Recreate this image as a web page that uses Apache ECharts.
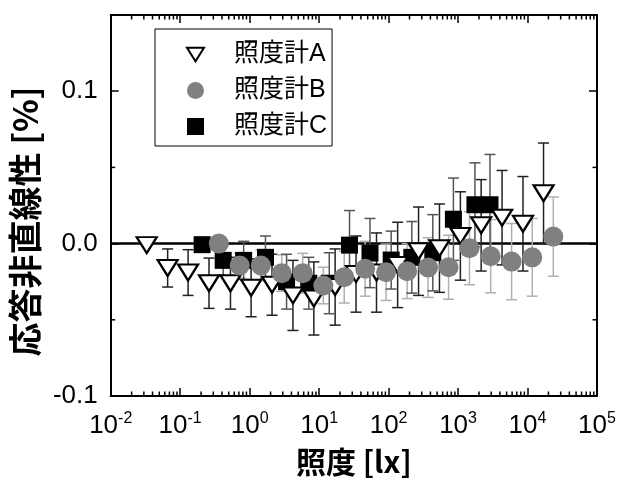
<!DOCTYPE html>
<html>
<head>
<meta charset="utf-8">
<script src="https://cdn.jsdelivr.net/npm/echarts@6/dist/echarts.min.js"></script>
<style>
html, body { margin: 0; background: #fff; }
#chart { width: 621px; height: 492px; }
</style>
</head>
<body>
<div id="chart"></div>
<script>
// 照度 [lx] / 応答非直線性 [%] / 誤差
const luxA = [0.033, 0.066, 0.13, 0.26, 0.53, 1.05, 2.1, 4.2, 8.4, 17, 34, 67, 135, 270, 540, 1080, 2150, 4300, 8600, 17000]
const nonlinA = [-0.001, -0.016, -0.019, -0.026, -0.026, -0.029, -0.027, -0.034, -0.036, -0.0285, -0.020, -0.019, -0.014, -0.005, -0.003, 0.005, 0.012, 0.017, 0.013, 0.033]
const errA = [0, 0.0125, 0.015, 0.0165, 0.017, 0.019, 0.02, 0.023, 0.024, 0.025, 0.025, 0.026, 0.028, 0.029, 0.029, 0.029, 0.030, 0.031, 0.031, 0.033]

const luxB = [0.36, 0.72, 1.45, 2.9, 5.8, 11.5, 23, 46, 92, 185, 370, 730, 1460, 2950, 5900, 11700, 23500]
const nonlinB = [0, -0.0144, -0.0144, -0.0194, -0.0194, -0.0275, -0.022, -0.0165, -0.0188, -0.0181, -0.0157, -0.0155, -0.003, -0.0083, -0.0118, -0.009, 0.0046]
const errB = [0.004, 0.008, 0.01, 0.012, 0.013, 0.012, 0.017, 0.018, 0.0185, 0.018, 0.0196, 0.021, 0.024, 0.024, 0.025, 0.0255, 0.026]

const luxC = [0.207, 0.416, 0.82, 1.69, 3.4, 7.1, 14, 27.4, 54, 109, 216, 433, 857, 1750, 2880]
const nonlinC = [-0.0007, -0.011, -0.011, -0.009, -0.025, -0.026, -0.026, -0.001, -0.0062, -0.0108, -0.009, -0.006, 0.016, 0.0255, 0.0255]
const errC = [0, 0.01, 0.0125, 0.014, 0.018, 0.017, 0.02, 0.0227, 0.0227, 0.019, 0.0235, 0.025, 0.027, 0.0275, 0.033]

const seriesNames = ['照度計A', '照度計B', '照度計C']

// log axis minor ticks (2..9 x 10^k) and y minor ticks
const xMinorTicks = []
for (let k = -2; k < 5; k++) {
    for (let m = 2; m < 10; m++) xMinorTicks.push(m * Math.pow(10, k))
}
const yMinorTicks = [-0.05, 0.05]

const FONT = "'Liberation Sans', Arial, sans-serif"
const CJK = "'Noto Sans CJK JP', sans-serif"
const MIXED = "'Liberation Sans', 'Noto Sans CJK JP', sans-serif"
const DOWN_TRIANGLE = 'path://M0,0 L20,0 L10,16 Z'

function pairs(xs, ys) {
    return xs.map((x, i) => [x, ys[i]])
}

function errorBars(xs, ys, errs, color) {
    return {
        type: 'custom',
        silent: true,
        z: 1,
        data: xs.map((x, i) => [x, ys[i] - errs[i], ys[i] + errs[i], errs[i]]),
        encode: { x: 0, y: [1, 2] },
        renderItem: function (params, api) {
            if (!api.value(3)) return null
            const lo = api.coord([api.value(0), api.value(1)])
            const hi = api.coord([api.value(0), api.value(2)])
            const hw = 5.5
            const style = { stroke: color, lineWidth: 1.5 }
            return {
                type: 'group',
                children: [
                    { type: 'line', shape: { x1: lo[0], y1: lo[1], x2: hi[0], y2: hi[1] }, style: style },
                    { type: 'line', shape: { x1: lo[0] - hw, y1: lo[1], x2: lo[0] + hw, y2: lo[1] }, style: style },
                    { type: 'line', shape: { x1: hi[0] - hw, y1: hi[1], x2: hi[0] + hw, y2: hi[1] }, style: style }
                ]
            }
        }
    }
}

function minorTickSeries(values, horizontal) {
    return {
        type: 'custom',
        silent: true,
        z: 6,
        clip: false,
        data: values.map(v => horizontal ? [v, 0] : [1, v]),
        renderItem: function (params, api) {
            const cs = params.coordSys
            const p = api.coord([api.value(0), api.value(1)])
            const len = 4.5
            const style = { stroke: '#000', lineWidth: 1.5 }
            if (horizontal) {
                const b = cs.y + cs.height, t = cs.y
                return {
                    type: 'group', children: [
                        { type: 'line', shape: { x1: p[0], y1: b, x2: p[0], y2: b - len }, style: style },
                        { type: 'line', shape: { x1: p[0], y1: t, x2: p[0], y2: t + len }, style: style }
                    ]
                }
            }
            const l = cs.x, r = cs.x + cs.width
            return {
                type: 'group', children: [
                    { type: 'line', shape: { x1: l, y1: p[1], x2: l + len, y2: p[1] }, style: style },
                    { type: 'line', shape: { x1: r, y1: p[1], x2: r - len, y2: p[1] }, style: style }
                ]
            }
        }
    }
}

const chart = echarts.init(document.getElementById('chart'))

const axisLine = { show: true, onZero: false, lineStyle: { color: '#000', width: 2 } }
const majorTick = { show: true, inside: true, length: 8, lineStyle: { color: '#000', width: 1.5 } }

chart.setOption({
    animation: false,
    backgroundColor: '#fff',
    grid: { left: 110, right: 24, top: 15, bottom: 96 },
    legend: {
        orient: 'vertical',
        left: 155,
        top: 29,
        data: [
            { name: seriesNames[0], icon: DOWN_TRIANGLE },
            { name: seriesNames[1], icon: 'circle' },
            { name: seriesNames[2], icon: 'rect' }
        ],
        symbolKeepAspect: true,
        itemWidth: 17,
        itemHeight: 17,
        itemGap: 11,
        padding: [13, 5, 7, 31],
        borderColor: '#000',
        borderWidth: 1,
        textStyle: { fontFamily: MIXED, fontSize: 25, color: '#000', padding: [0, 0, 0, 25] }
    },
    xAxis: [
        {
            type: 'log',
            logBase: 10,
            min: 0.01,
            max: 100000,
            splitNumber: 7,
            position: 'bottom',
            name: '照度 [lx]',
            nameLocation: 'middle',
            nameGap: 51,
            nameTextStyle: { fontFamily: CJK, fontSize: 30, fontWeight: 'bold', color: '#000' },
            axisLine: axisLine,
            axisTick: majorTick,
            splitLine: { show: false },
            axisLabel: {
                margin: 15,
                color: '#000',
                formatter: function (v) {
                    return '{b|10}{s|' + Math.round(Math.log10(v)) + '}'
                },
                rich: {
                    b: { fontFamily: FONT, fontSize: 26, color: '#000' },
                    s: { fontFamily: FONT, fontSize: 16, color: '#000', padding: [0, 0, 13, 0] }
                }
            }
        },
        {
            type: 'log',
            logBase: 10,
            min: 0.01,
            max: 100000,
            splitNumber: 7,
            position: 'top',
            axisLine: axisLine,
            axisTick: majorTick,
            axisLabel: { show: false },
            splitLine: { show: false }
        }
    ],
    yAxis: [
        {
            type: 'value',
            min: -0.1,
            max: 0.15,
            interval: 0.1,
            position: 'left',
            name: '応答非直線性 [%]',
            nameLocation: 'middle',
            nameGap: 67,
            nameTextStyle: { fontFamily: CJK, fontSize: 34, fontWeight: 'bold', color: '#000', padding: [0, 32, 0, 0] },
            axisLine: axisLine,
            axisTick: majorTick,
            splitLine: { show: false },
            axisLabel: {
                showMaxLabel: false,
                margin: 13,
                fontFamily: FONT,
                fontSize: 26,
                color: '#000',
                formatter: v => v.toFixed(1)
            }
        },
        {
            type: 'value',
            min: -0.1,
            max: 0.15,
            interval: 0.1,
            position: 'right',
            axisLine: axisLine,
            axisTick: majorTick,
            axisLabel: { show: false },
            splitLine: { show: false }
        }
    ],
    series: [
        errorBars(luxA, nonlinA, errA, '#222'),
        errorBars(luxB, nonlinB, errB, '#b0b0b0'),
        errorBars(luxC, nonlinC, errC, '#555'),
        {
            name: seriesNames[2],
            type: 'scatter',
            z: 2,
            symbol: 'rect',
            symbolSize: 17,
            itemStyle: { color: '#000', opacity: 1 },
            data: pairs(luxC, nonlinC),
            markLine: {
                silent: true,
                z: 0,
                symbol: 'none',
                label: { show: false },
                lineStyle: { color: '#000', width: 2.5, type: 'solid' },
                data: [{ yAxis: 0 }]
            }
        },
        {
            name: seriesNames[0],
            type: 'scatter',
            z: 3,
            symbol: 'triangle',
            symbolRotate: 180,
            symbolSize: [20, 16],
            itemStyle: { color: '#fff', borderColor: '#000', borderWidth: 2.2, opacity: 1 },
            data: pairs(luxA, nonlinA)
        },
        {
            name: seriesNames[1],
            type: 'scatter',
            z: 4,
            symbol: 'circle',
            symbolSize: 20,
            itemStyle: { color: '#808080', opacity: 1 },
            data: pairs(luxB, nonlinB)
        },
        minorTickSeries(xMinorTicks, true),
        minorTickSeries(yMinorTicks, false)
    ]
})
</script>
</body>
</html>
